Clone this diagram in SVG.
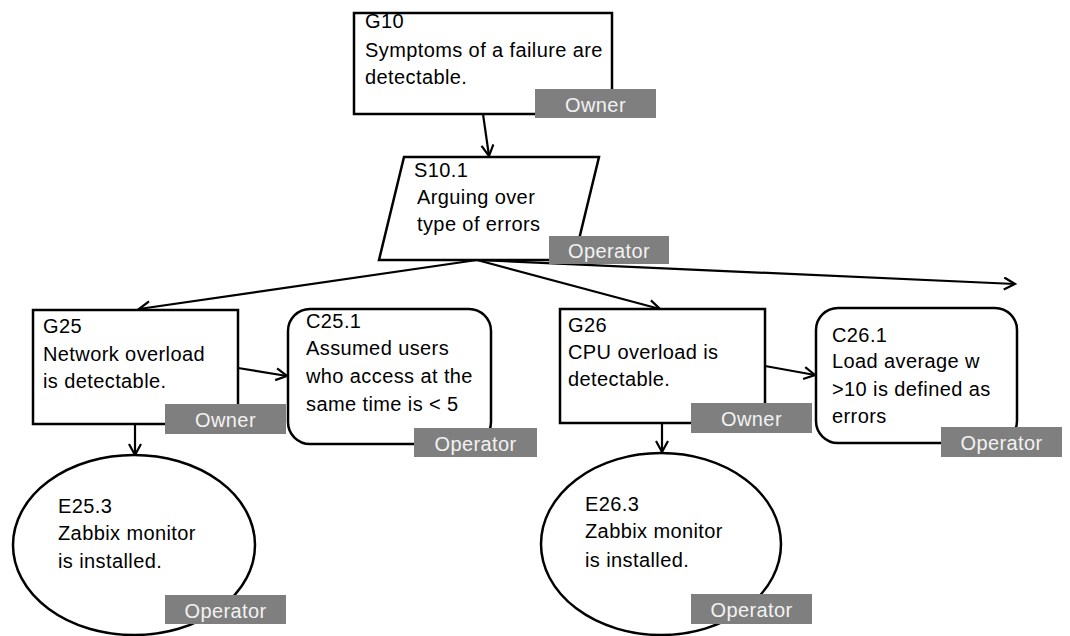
<svg xmlns="http://www.w3.org/2000/svg" width="1070" height="636" viewBox="0 0 1070 636">
<style>
.box{fill:#fff;stroke:#000;stroke-width:2.5}
.t{font-family:"Liberation Sans",Arial,sans-serif;font-size:20px;letter-spacing:0.4px;fill:#000}
.lbl{fill:#7f7f7f}
.lt{font-family:"Liberation Sans",Arial,sans-serif;font-size:20px;letter-spacing:0.4px;fill:#f2f2f2;text-anchor:middle}
.c{stroke:#000;stroke-width:2.2;fill:none;marker-end:url(#ah)}
</style>
<defs>
<marker id="ah" markerUnits="userSpaceOnUse" markerWidth="16" markerHeight="16" refX="12" refY="7" orient="auto">
<path d="M1,1 L12,7 L1,13" fill="none" stroke="#000" stroke-width="2.2"/>
</marker>
</defs>
<g id="connectors">
<line class="c" x1="483" y1="114" x2="489" y2="156"/>
<line class="c" x1="477" y1="260" x2="139" y2="309"/>
<line class="c" x1="477" y1="260" x2="660" y2="309"/>
<line class="c" x1="477" y1="260" x2="1015" y2="284"/>
<line class="c" x1="238" y1="368" x2="287" y2="376"/>
<line class="c" x1="135" y1="424" x2="135" y2="455"/>
<line class="c" x1="765" y1="366" x2="815" y2="375"/>
<line class="c" x1="662" y1="423" x2="662" y2="452"/>
</g>
<g id="G10">
<rect class="box" x="354" y="13" width="258" height="101"/>
<text class="t" x="365" y="28">G10</text>
<text class="t" x="365" y="57">Symptoms of a failure are</text>
<text class="t" x="365" y="84">detectable.</text>
<rect class="lbl" x="535" y="89" width="121" height="29"/>
<text class="lt" x="595.5" y="112">Owner</text>
</g>
<g id="S10.1">
<polygon class="box" points="404,157 599,157 574,260 379,260"/>
<text class="t" x="414" y="177">S10.1</text>
<text class="t" x="417" y="204">Arguing over</text>
<text class="t" x="417" y="231">type of errors</text>
<rect class="lbl" x="549" y="236" width="120" height="28"/>
<text class="lt" x="609" y="258">Operator</text>
</g>
<g id="G25">
<rect class="box" x="33" y="310" width="205" height="114"/>
<text class="t" x="43" y="333">G25</text>
<text class="t" x="43" y="361">Network overload</text>
<text class="t" x="43" y="388">is detectable.</text>
<rect class="lbl" x="165" y="404" width="121" height="30"/>
<text class="lt" x="225.5" y="427">Owner</text>
</g>
<g id="C25.1">
<rect class="box" x="288" y="309" width="203" height="135" rx="22" ry="22"/>
<text class="t" x="306" y="328">C25.1</text>
<text class="t" x="306" y="355">Assumed users</text>
<text class="t" x="306" y="383">who access at the</text>
<text class="t" x="306" y="411">same time is &lt; 5</text>
<rect class="lbl" x="414" y="428" width="123" height="29"/>
<text class="lt" x="475.5" y="451">Operator</text>
</g>
<g id="G26">
<rect class="box" x="560" y="309" width="205" height="114"/>
<text class="t" x="568" y="332">G26</text>
<text class="t" x="568" y="359">CPU overload is</text>
<text class="t" x="568" y="386">detectable.</text>
<rect class="lbl" x="691" y="403" width="121" height="30"/>
<text class="lt" x="751.5" y="426">Owner</text>
</g>
<g id="C26.1">
<rect class="box" x="816" y="308" width="201" height="135" rx="22" ry="22"/>
<text class="t" x="832" y="342">C26.1</text>
<text class="t" x="832" y="368">Load average w</text>
<text class="t" x="832" y="396">&gt;10 is defined as</text>
<text class="t" x="832" y="423">errors</text>
<rect class="lbl" x="941" y="427" width="121" height="30"/>
<text class="lt" x="1001.5" y="450">Operator</text>
</g>
<g id="E25.3">
<ellipse class="box" cx="134" cy="545" rx="121" ry="90"/>
<text class="t" x="58" y="513">E25.3</text>
<text class="t" x="58" y="540">Zabbix monitor</text>
<text class="t" x="58" y="568">is installed.</text>
<rect class="lbl" x="165" y="595" width="121" height="29"/>
<text class="lt" x="225.5" y="618">Operator</text>
</g>
<g id="E26.3">
<ellipse class="box" cx="661" cy="544" rx="120" ry="91"/>
<text class="t" x="585" y="511">E26.3</text>
<text class="t" x="585" y="538">Zabbix monitor</text>
<text class="t" x="585" y="567">is installed.</text>
<rect class="lbl" x="691" y="594" width="121" height="30"/>
<text class="lt" x="751.5" y="617">Operator</text>
</g>
</svg>
